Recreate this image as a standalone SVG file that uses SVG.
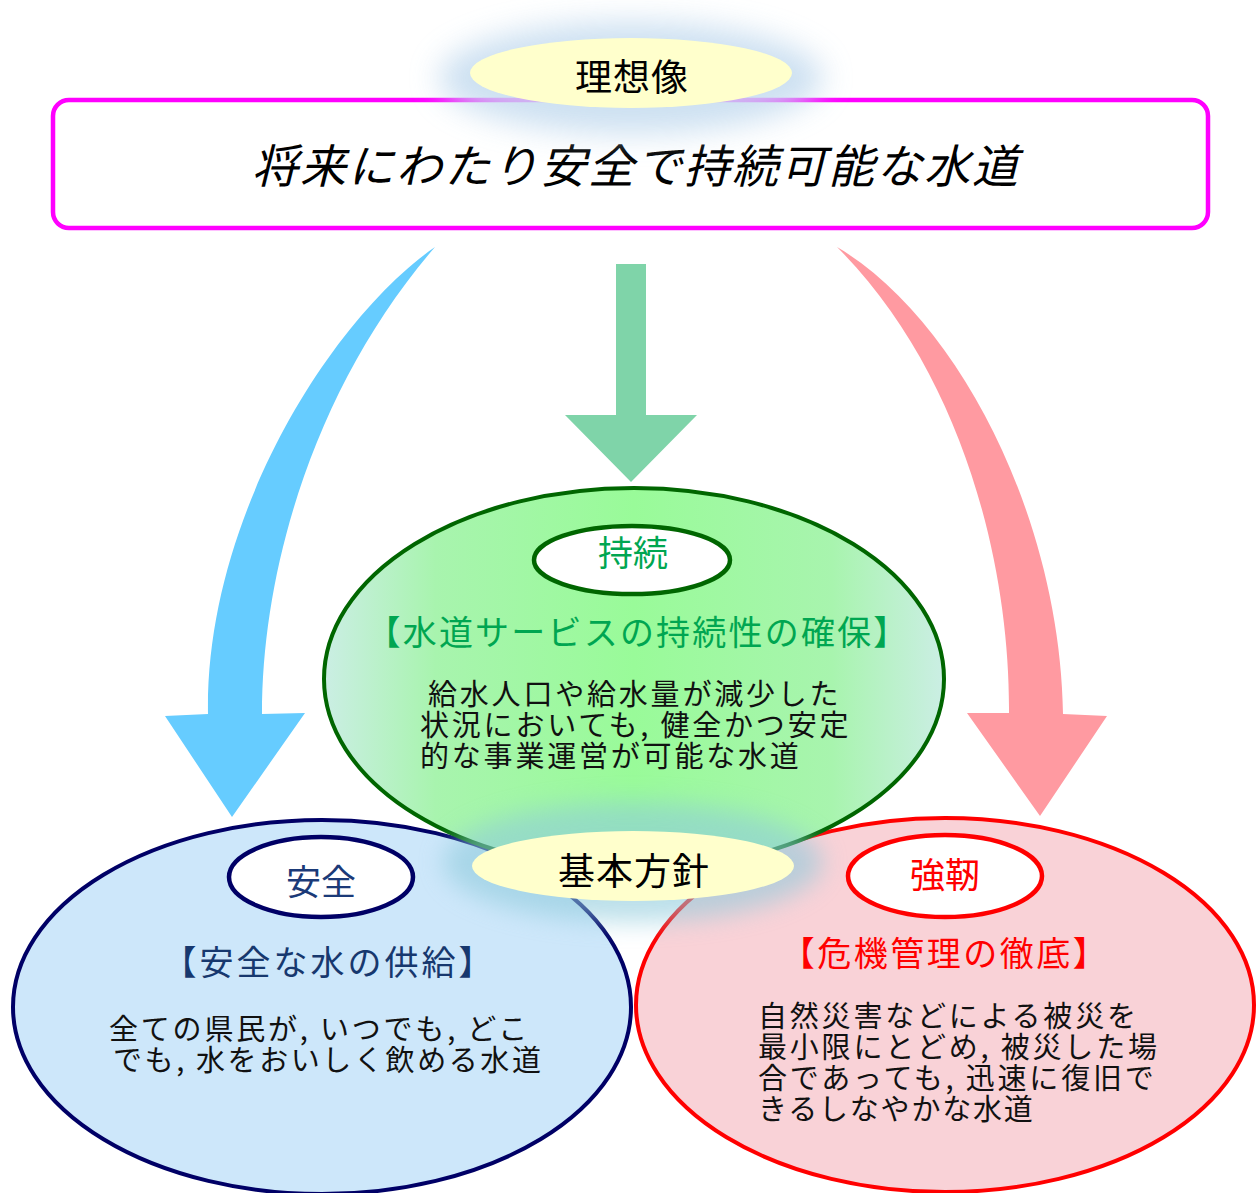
<svg xmlns="http://www.w3.org/2000/svg" width="1259" height="1193" viewBox="0 0 1259 1193">
  <defs>
    <filter id="blur1" x="-50%" y="-100%" width="200%" height="300%">
      <feGaussianBlur stdDeviation="15"/>
    </filter>
    <filter id="blur2" x="-50%" y="-100%" width="200%" height="300%">
      <feGaussianBlur stdDeviation="12"/>
    </filter>
    <linearGradient id="greenFill" x1="0" y1="0" x2="1" y2="0">
      <stop offset="0" stop-color="#cbeee4"/>
      <stop offset="0.18" stop-color="#a8f4ae"/>
      <stop offset="0.5" stop-color="#99fb99"/>
      <stop offset="0.82" stop-color="#a8f4ae"/>
      <stop offset="1" stop-color="#cbeee4"/>
    </linearGradient>
    <style>
      .jp { font-family: "Noto Sans CJK JP", "Noto Sans CJK SC", sans-serif; }
      .body { font-size: 29px; letter-spacing: 2.8px; fill: #111111; }
      .head { font-size: 34px; text-anchor: middle; }
      .lbl { font-size: 35px; text-anchor: middle; }
      .pill { fill: #ffffcc; }
      .pilltext { font-size: 37px; text-anchor: middle; fill: #000000; letter-spacing: 1px; }
    </style>
  </defs>

  <rect width="1259" height="1193" fill="#ffffff"/>

  <!-- Ideal (理想像) -->
  <g id="ideal">
    <rect x="53" y="100" width="1155" height="128" rx="16" ry="16" fill="#ffffff" stroke="#ff00ff" stroke-width="4.5"/>
    <text class="jp" x="636" y="183" font-size="46" font-style="italic" letter-spacing="2" text-anchor="middle" fill="#000000">将来にわたり安全で持続可能な水道</text>
  </g>

  <g id="ideal-label">
    <ellipse cx="631" cy="78" rx="192" ry="56" fill="#c4dbef" opacity="0.85" filter="url(#blur1)"/>
    <ellipse class="pill" cx="631" cy="73" rx="161" ry="35"/>
    <text class="jp pilltext" x="632" y="91">理想像</text>
  </g>

  <!-- Connectors -->
  <g id="connectors">
    <path id="arrow-safe" fill="#66ccff" d="M 435 247 C 330 320 205 520 208 714 L 165 716 L 232 817 L 305 713 L 262 714 C 262 560 320 380 435 247 Z"/>
    <path id="arrow-sustain" fill="#7fd4a9" d="M 616 264 L 646 264 L 646 415 L 697 415 L 631 482 L 565 415 L 616 415 Z"/>
    <path id="arrow-resilience" fill="#ff9aa1" d="M 837 247 C 960 320 1060 520 1063 714 L 1107 716 L 1040 816 L 967 713 L 1009 713 C 1010 560 960 370 837 247 Z"/>
  </g>

  <!-- Safety -->
  <g id="safety">
    <ellipse cx="322" cy="1007" rx="309" ry="187" fill="#cde7fa" stroke="#000066" stroke-width="4"/>
    <ellipse cx="321" cy="877" rx="92" ry="40" fill="#ffffff" stroke="#000066" stroke-width="4.5"/>
    <text class="jp lbl" x="321" y="895" fill="#1b3a78">安全</text>
    <text class="jp head" x="329" y="975" fill="#17386e" letter-spacing="3">【安全な水の供給】</text>
    <text class="jp body" letter-spacing="3.4"><tspan x="109" y="1040">全ての県民が, いつでも, どこ</tspan><tspan x="113" y="1071" letter-spacing="2.6">でも, 水をおいしく飲める水道</tspan></text>
  </g>

  <!-- Resilience -->
  <g id="resilience">
    <ellipse cx="945" cy="1005" rx="309" ry="187" fill="#f9d2d7" stroke="#ff0000" stroke-width="4"/>
    <ellipse cx="945" cy="876" rx="97" ry="41" fill="#ffffff" stroke="#ff0000" stroke-width="4.5"/>
    <text class="jp lbl" x="945" y="888" fill="#ff0000">強靭</text>
    <text class="jp head" x="945" y="966" fill="#ff0000" letter-spacing="2.5">【危機管理の徹底】</text>
    <text class="jp body" font-size="30" letter-spacing="3.3"><tspan x="758" y="1027">自然災害などによる被災を</tspan><tspan x="758" y="1058">最小限にとどめ, 被災した場</tspan><tspan x="758" y="1089">合であっても, 迅速に復旧で</tspan><tspan x="758" y="1120" letter-spacing="1.8">きるしなやかな水道</tspan></text>
  </g>

  <!-- Sustainability -->
  <g id="sustainability">
    <ellipse cx="634" cy="679" rx="310" ry="191" fill="url(#greenFill)" stroke="#006600" stroke-width="4"/>
    <ellipse cx="632" cy="560" rx="98" ry="34" fill="#ffffff" stroke="#006600" stroke-width="4.5"/>
    <text class="jp lbl" x="633" y="566" fill="#00a651">持続</text>
    <text class="jp head" x="638" y="645" font-size="35" fill="#00a651" letter-spacing="2.2">【水道サービスの持続性の確保】</text>
    <text class="jp body"><tspan x="428" y="705">給水人口や給水量が減少した</tspan><tspan x="420" y="736">状況においても, 健全かつ安定</tspan><tspan x="420" y="767">的な事業運営が可能な水道</tspan></text>
  </g>

  <!-- Basic policy (基本方針) -->
  <g id="policy-label">
    <ellipse cx="633" cy="862" rx="190" ry="60" fill="#8fcbdc" opacity="0.6" filter="url(#blur2)"/>
    <ellipse class="pill" cx="633" cy="866" rx="161" ry="35"/>
    <text class="jp pilltext" x="634" y="885" font-size="38">基本方針</text>
  </g>
</svg>
